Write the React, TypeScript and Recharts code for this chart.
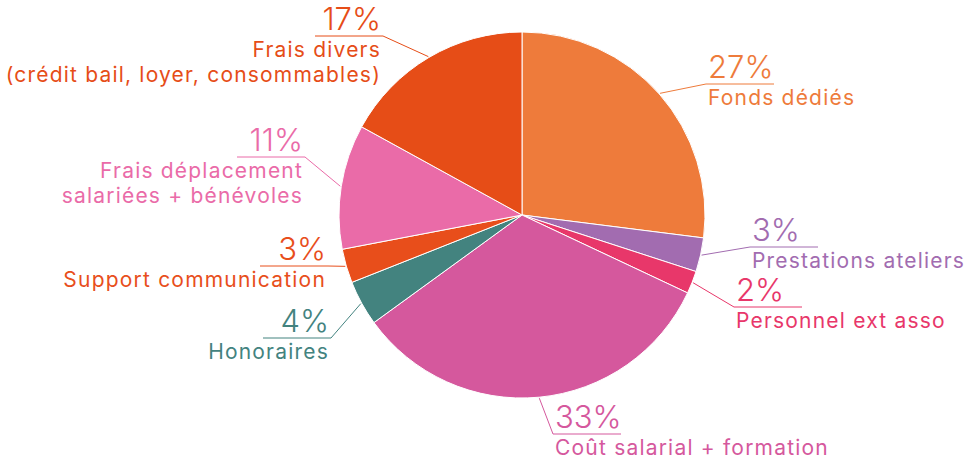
import { PieChart, Pie, Cell } from "recharts";

const categories = [
  "Fonds dédiés",
  "Prestations ateliers",
  "Personnel ext asso",
  "Coût salarial + formation",
  "Honoraires",
  "Support communication",
  "Frais déplacement\nsalariées + bénévoles",
  "Frais divers\n(crédit bail, loyer, consommables)",
];

const shares = [27, 3, 2, 33, 4, 3, 11, 17];

const colors = [
  "#EE7B3B",
  "#A26CB0",
  "#E8376A",
  "#D5589D",
  "#43837F",
  "#E84E1B",
  "#EA6BA8",
  "#E64D17",
];

const data = categories.map((name, i) => ({ name, value: shares[i] }));

// where each label's underline meets its leader line, relative to the pie centre
const labelElbows: Array<[number, number]> = [
  [184, -131],
  [228, 32],
  [212, 92],
  [31, 219],
  [-191, 123],
  [-194, 51],
  [-217, -58],
  [-139, -179],
];

const RAD = Math.PI / 180;
const FONT = "Inter, 'Noto Sans', sans-serif";

function renderLabel(props: any) {
  const { cx, cy, midAngle, outerRadius, index, value, name } = props;
  const color = colors[index];
  const sx = cx + (outerRadius + 1) * Math.cos(-midAngle * RAD);
  const sy = cy + (outerRadius + 1) * Math.sin(-midAngle * RAD);
  const [dx, dy] = labelElbows[index];
  const ex = cx + dx;
  const ey = cy + dy;
  const right = ex > cx;
  const ulen = 68;
  const ux = right ? ex + ulen : ex - ulen;
  const tx = right ? ex + 2 : ex - 2;
  const anchor = right ? "start" : "end";
  const lines = String(name).split("\n");
  return (
    <g>
      <polyline
        points={`${sx},${sy} ${ex},${ey} ${ux},${ey}`}
        fill="none"
        stroke={color}
        strokeWidth={1}
      />
      <text
        x={tx}
        y={ey - 6}
        textAnchor={anchor}
        fill={color}
        fontFamily={FONT}
        fontWeight={300}
        fontSize={31}
      >
        {value}%
      </text>
      <text
        x={tx}
        y={ey + 21}
        textAnchor={anchor}
        fill={color}
        fontFamily={FONT}
        fontWeight={400}
        fontSize={21}
        letterSpacing={1.2}
      >
        {lines.map((l, i) => (
          <tspan key={i} x={tx} dy={i === 0 ? 0 : 25}>
            {l}
          </tspan>
        ))}
      </text>
    </g>
  );
}

export default function App() {
  return (
    <div style={{ position: "absolute", left: 0, top: 0, background: "#fff" }}>
      <PieChart width={972} height={461} margin={{ top: 0, right: 0, bottom: 0, left: 0 }}>
        <Pie
          data={data}
          dataKey="value"
          nameKey="name"
          cx={522}
          cy={215}
          outerRadius={183}
          startAngle={90}
          endAngle={-270}
          stroke="#fff"
          strokeWidth={1}
          label={renderLabel}
          labelLine={false}
          isAnimationActive={false}
        >
          {data.map((d, i) => (
            <Cell key={d.name} fill={colors[i]} />
          ))}
        </Pie>
      </PieChart>
    </div>
  );
}
